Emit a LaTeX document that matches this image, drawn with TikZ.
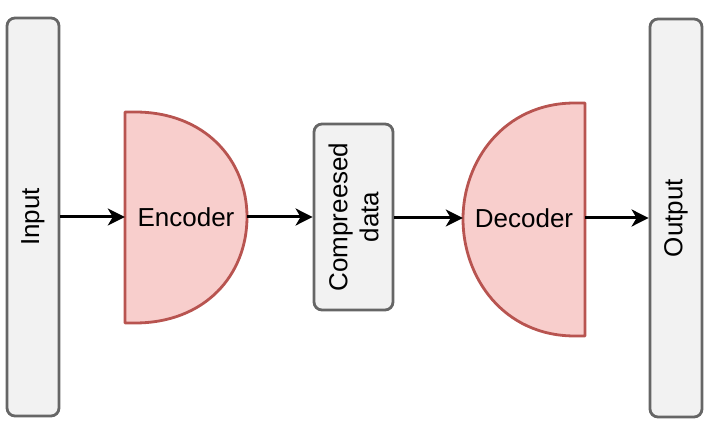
\documentclass[tikz,border=0pt]{standalone}
\usepackage{fontspec}
\setmainfont{Liberation Sans}
\usetikzlibrary{arrows.meta}
\definecolor{boxfill}{HTML}{F2F2F2}
\definecolor{boxline}{HTML}{666666}
\definecolor{netfill}{HTML}{F8CECC}
\definecolor{netline}{HTML}{B85450}
\tikzset{
  databox/.style={draw=boxline,fill=boxfill,line width=2.8pt,rounded corners=8pt,inner sep=0pt},
  netshape/.style={draw=netline,fill=netfill,line width=2.8pt,line join=round},
  netlabel/.style={inner sep=0pt},
  flow/.style={line width=3pt,-{Stealth[length=17pt,width=17pt,inset=5pt]}}
}
\begin{document}
\begin{tikzpicture}[x=1pt,y=-1pt,font=\fontsize{26}{31}\selectfont]
\useasboundingbox (0,0) rectangle (710,430);

\node[databox,minimum width=52pt,minimum height=398pt] (in) at (33,217) {};
\node[rotate=90] at (in.center) {Input};
\node[databox,minimum width=52pt,minimum height=398pt] (out) at (676,218) {};
\node[rotate=90] at (out.center) {Output};

\node[databox,minimum width=79pt,minimum height=186pt] (cmp) at (353.5,217) {};
\node[rotate=90,align=center] at (cmp.center) {Compreesed\\data};

% half-round blocks
\draw[netshape] (125,112) -- (135,112) .. controls (205,112) and (247,160) .. (247,217)
      .. controls (247,275) and (205,323) .. (135,323) -- (125,323) -- cycle;
\draw[netshape] (585,103) -- (575,103) .. controls (503,103) and (463,162) .. (463,219)
      .. controls (463,277) and (503,336) .. (575,336) -- (585,336) -- cycle;
\node[netlabel,minimum width=122pt,minimum height=40pt] (enc) at (186,217) {Encoder};
\node[netlabel,minimum width=122pt,minimum height=40pt] (dec) at (524,218) {Decoder};

\draw[flow] (in.east |- enc.west) -- (enc.west);
\draw[flow] (enc.east) -- (cmp.west |- enc.east);
\draw[flow] (cmp.east |- dec.west) -- (dec.west);
\draw[flow] (dec.east) -- (out.west |- dec.east);
\end{tikzpicture}
\end{document}
